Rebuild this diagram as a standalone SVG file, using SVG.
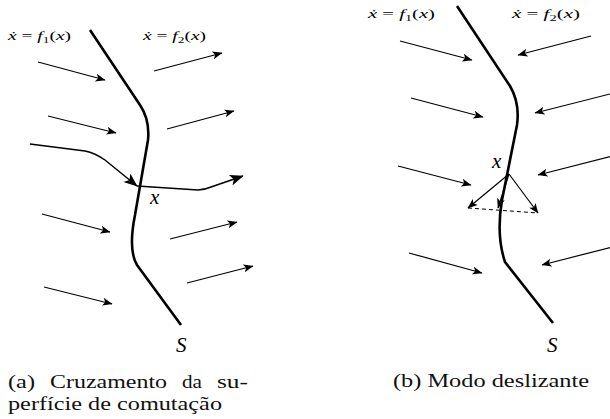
<svg xmlns="http://www.w3.org/2000/svg" width="610" height="419" viewBox="0 0 610 419">
<style>
.surf{fill:none;stroke:#000;stroke-width:2.6;stroke-linejoin:round}
.arr{fill:none;stroke:#000;stroke-width:1.2;marker-end:url(#ah)}
.traj{fill:none;stroke:#000;stroke-width:1.5;marker-end:url(#ahb)}
.eq{font-family:"Liberation Serif","DejaVu Serif",serif;font-size:13px;fill:#000}
.var{font-family:"Liberation Serif","DejaVu Serif",serif;font-style:italic;font-size:21px;fill:#000}
.cap{font-family:"Liberation Serif","DejaVu Serif",serif;font-size:19px;fill:#111}
</style>
<defs>
<marker id="ah" viewBox="0 0 10 8" refX="9.5" refY="4" markerUnits="userSpaceOnUse" markerWidth="11" markerHeight="8" orient="auto">
<path d="M0,0 L10,4 L0,8 L2.5,4 z" fill="#000"/>
</marker>
<marker id="ahb" viewBox="0 0 10 8" refX="9.5" refY="4" markerUnits="userSpaceOnUse" markerWidth="15" markerHeight="11" orient="auto">
<path d="M0,0 L10,4 L0,8 L2.5,4 z" fill="#000"/>
</marker>
</defs>
<g id="panel-a">
<g id="surface-a"><path class="surf" d="M90,30 L140,105 Q150,120 148,140 L135,215 Q128,250 137,265 L181,325"/></g>
<g id="labels-a">
<text class="eq" x="8" y="40" textLength="63" lengthAdjust="spacingAndGlyphs"><tspan font-style="italic">ẋ</tspan> = <tspan font-style="italic">f</tspan><tspan font-size="9" dy="3">1</tspan><tspan dy="-3">(</tspan><tspan font-style="italic">x</tspan>)</text>
<text class="eq" x="143" y="40" textLength="63" lengthAdjust="spacingAndGlyphs"><tspan font-style="italic">ẋ</tspan> = <tspan font-style="italic">f</tspan><tspan font-size="9" dy="3">2</tspan><tspan dy="-3">(</tspan><tspan font-style="italic">x</tspan>)</text>
<text class="var" x="150" y="204">x</text>
<text class="var" x="176" y="352">S</text>
</g>
<g id="connectors-a">
<line class="arr" x1="38" y1="62" x2="105" y2="80"/>
<line class="arr" x1="48" y1="116" x2="116" y2="133"/>
<line class="arr" x1="42" y1="214" x2="110" y2="232"/>
<line class="arr" x1="44" y1="287" x2="112" y2="304"/>
<line class="arr" x1="154" y1="71" x2="222" y2="53"/>
<line class="arr" x1="167" y1="129" x2="234" y2="111"/>
<line class="arr" x1="170" y1="239" x2="237" y2="222"/>
<line class="arr" x1="187" y1="283" x2="253" y2="266"/>
<path class="traj" d="M30,144 L85,151 Q95,153 105,160 L137,186"/>
<path class="traj" d="M137,186 L198,190 Q204,190 211,187 L243,176"/>
</g>
<text class="cap" y="388"><tspan x="8" textLength="27" lengthAdjust="spacingAndGlyphs">(a)</tspan><tspan x="50" textLength="117" lengthAdjust="spacingAndGlyphs">Cruzamento</tspan><tspan x="182" textLength="20" lengthAdjust="spacingAndGlyphs">da</tspan><tspan x="217" textLength="31" lengthAdjust="spacingAndGlyphs">su-</tspan></text>
<text class="cap" x="8" y="410" textLength="214" lengthAdjust="spacingAndGlyphs">perfície de comutação</text>
</g>
<g id="panel-b">
<g id="surface-b"><path class="surf" d="M457,6 L510,86 Q520,103 517,125 L502,200 Q496,235 505,262 L553,323"/></g>
<g id="labels-b">
<text class="eq" x="368" y="18" textLength="67" lengthAdjust="spacingAndGlyphs"><tspan font-style="italic">ẋ</tspan> = <tspan font-style="italic">f</tspan><tspan font-size="9" dy="3">1</tspan><tspan dy="-3">(</tspan><tspan font-style="italic">x</tspan>)</text>
<text class="eq" x="512" y="18" textLength="68" lengthAdjust="spacingAndGlyphs"><tspan font-style="italic">ẋ</tspan> = <tspan font-style="italic">f</tspan><tspan font-size="9" dy="3">2</tspan><tspan dy="-3">(</tspan><tspan font-style="italic">x</tspan>)</text>
<text class="var" x="492" y="168">x</text>
<text class="var" x="547" y="352">S</text>
</g>
<g id="connectors-b">
<line class="arr" x1="400" y1="41" x2="472" y2="60"/>
<line class="arr" x1="411" y1="98" x2="483" y2="117"/>
<line class="arr" x1="398" y1="166" x2="471" y2="185"/>
<line class="arr" x1="409" y1="253" x2="482" y2="273"/>
<line class="arr" x1="591" y1="36" x2="518" y2="55"/>
<line class="arr" x1="610" y1="94" x2="535" y2="113"/>
<line class="arr" x1="612" y1="156" x2="538" y2="175"/>
<line class="arr" x1="612" y1="247" x2="542" y2="265"/>
<line class="arr" x1="509" y1="174" x2="468" y2="208"/>
<line class="arr" x1="509" y1="174" x2="498" y2="208"/>
<line class="arr" x1="509" y1="174" x2="538" y2="213"/>
<line x1="468" y1="208" x2="538" y2="213" stroke="#000" stroke-width="1.1" stroke-dasharray="4,3"/>
</g>
<text class="cap" x="393" y="387" textLength="196" lengthAdjust="spacingAndGlyphs">(b) Modo deslizante</text>
</g>
</svg>
